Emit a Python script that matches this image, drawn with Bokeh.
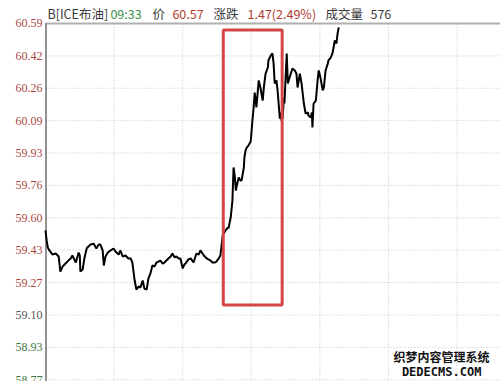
from bokeh.plotting import figure
from bokeh.models import (Range1d, LabelSet, Label, ColumnDataSource, BoxAnnotation)
from bokeh.embed import file_html
from bokeh.resources import INLINE

# ---- data -------------------------------------------------------------
# minutes since session start
minutes = [0, 2, 4, 7, 12, 18, 23, 26, 30, 35, 40, 44, 47, 53, 56, 58, 60, 61, 65, 68,
           72, 75, 79, 84, 89, 93, 96, 100, 102, 105, 109, 114, 119, 124, 128, 131, 135,
           140, 145, 149, 152, 156, 159, 163, 166, 170, 173, 177, 180, 184, 187, 191,
           194, 201, 205, 208, 215, 219, 222, 226, 229, 233, 236, 240, 243, 245, 250,
           254, 259, 264, 268, 271, 277, 282, 285, 289, 292, 296, 299, 303, 306, 310,
           312, 315, 319, 320, 324, 327, 329, 331, 333, 334, 338, 341, 343, 347, 348,
           350, 352, 355, 359, 362, 364, 366, 369, 373, 376, 380, 382, 385, 389, 390,
           394, 397, 399, 401, 404, 406, 410, 411, 413, 415, 417, 418, 422, 424, 427,
           432, 436, 439, 441, 445, 448, 452, 455, 459, 460, 464, 466, 467, 469, 473,
           476, 478, 481, 485, 487, 490, 494, 495, 499, 502, 504, 506, 509, 511, 513]
prices = [59.532, 59.481, 59.445, 59.430, 59.409, 59.414, 59.399, 59.322, 59.348, 59.363,
          59.378, 59.389, 59.404, 59.368, 59.399, 59.419, 59.404, 59.322, 59.332, 59.389,
          59.440, 59.450, 59.460, 59.465, 59.440, 59.460, 59.460, 59.430, 59.353, 59.399,
          59.419, 59.430, 59.440, 59.419, 59.409, 59.430, 59.399, 59.404, 59.389, 59.389,
          59.368, 59.276, 59.230, 59.246, 59.240, 59.276, 59.235, 59.230, 59.286, 59.317,
          59.353, 59.348, 59.368, 59.378, 59.363, 59.368, 59.389, 59.399, 59.414, 59.394,
          59.399, 59.389, 59.389, 59.338, 59.358, 59.363, 59.384, 59.389, 59.368, 59.414,
          59.409, 59.430, 59.404, 59.389, 59.384, 59.378, 59.368, 59.368, 59.373, 59.389,
          59.404, 59.506, 59.517, 59.532, 59.547, 59.542, 59.598, 59.685, 59.854, 59.813,
          59.736, 59.752, 59.803, 59.787, 59.787, 59.854, 59.905, 59.941, 59.956, 59.966,
          59.987, 60.094, 60.156, 60.237, 60.161, 60.299, 60.263, 60.196, 60.263, 60.334,
          60.365, 60.401, 60.426, 60.437, 60.386, 60.283, 60.299, 60.248, 60.104, 60.135,
          60.094, 60.110, 60.212, 60.181, 60.437, 60.283, 60.314, 60.360, 60.350, 60.334,
          60.263, 60.334, 60.283, 60.181, 60.130, 60.135, 60.120, 60.110, 60.135, 60.058,
          60.181, 60.196, 60.299, 60.350, 60.314, 60.248, 60.263, 60.350, 60.386, 60.401,
          60.416, 60.437, 60.467, 60.503, 60.488, 60.539, 60.570]

prev_close = 59.10
tick_step = 0.16556
tick_index = [-2, -1, 0, 1, 2, 3, 4, 5, 6, 7, 8, 9]
tick_labels = ["58.77", "58.93", "59.10", "59.27", "59.43", "59.60",
               "59.76", "59.93", "60.09", "60.26", "60.42", "60.59"]
time_grid = [120, 240, 360, 480, 600, 720]
session_end = 796

header_texts = ["B[ICE布油]", "09:33", "价", "60.57", "涨跌", "1.47(2.49%)", "成交量", "576"]
header_minutes = [3.5, 113.5, 187, 222, 294, 353.5, 490, 568.5]

highlight = dict(left=311, right=414, top=60.557, bottom=59.151)

# ---- styling ----------------------------------------------------------
RED = "#b03a30"
AXRED = "#a8483e"
GREEN = "#3e8e4e"
AXGREEN = "#3f7a3f"
DARK = "#3a3a3a"
FONT = "Noto Sans CJK SC"
header_colors = [DARK, GREEN, DARK, RED, DARK, RED, DARK, DARK]

# whole canvas is the frame; chart area begins at 45 px left / 22 px top
x_left = -78.73
y_top = 60.7076
y_bottom = 58.7599

p = figure(width=500, height=381, x_range=Range1d(x_left, session_end),
           y_range=Range1d(y_bottom, y_top),
           output_backend="svg", toolbar_location=None, title=None,
           x_axis_location=None, y_axis_location=None,
           min_border_left=0, min_border_right=0, min_border_top=0,
           min_border_bottom=0, outline_line_color=None,
           background_fill_color="white", border_fill_color="white")
p.grid.visible = False

ticks = [prev_close + k * tick_step for k in tick_index]
top_val = ticks[-1]

# horizontal dotted grid
p.segment(x0=[0] * len(ticks), x1=[session_end] * len(ticks), y0=ticks, y1=ticks,
          line_color="#c4c4c4", line_dash="1 2", line_width=1)
# vertical dotted grid
p.segment(x0=time_grid, x1=time_grid, y0=[y_bottom] * len(time_grid),
          y1=[top_val] * len(time_grid),
          line_color="#c4c4c4", line_dash="1 2", line_width=1)
# top border and left axis line
p.segment(x0=[0], x1=[session_end], y0=[top_val], y1=[top_val],
          line_color="#b0b0b0", line_width=2)
p.segment(x0=[0.9], x1=[0.9], y0=[y_bottom], y1=[top_val],
          line_color="#4a4a4a", line_width=1.2)

p.line(minutes, prices, line_color="black", line_width=2)

p.add_layout(BoxAnnotation(fill_color=None, fill_alpha=0, line_color="#d64545",
                           line_alpha=1, line_width=3, **highlight))

label_colors = [AXRED if k > 0 else (AXGREEN if k < 0 else "#555555") for k in tick_index]
src = ColumnDataSource(dict(x=[0] * len(ticks), y=ticks, text=tick_labels, c=label_colors))
p.add_layout(LabelSet(x="x", y="y", text="text", source=src, text_color="c",
                      x_offset=-3, text_align="right", text_baseline="middle",
                      text_font=FONT, text_font_size="12px"))

y_header = 60.641
for t, xm, c in zip(header_texts, header_minutes, header_colors):
    p.add_layout(Label(x=xm, y=y_header, text=t, text_color=c, text_font=FONT,
                       text_font_size="12.5px", text_baseline="middle",
                       text_align="left"))

# watermark
p.add_layout(Label(x=693, y=58.888, text="织梦内容管理系统", text_color="#111111",
                   text_font=FONT, text_font_size="12px", text_font_style="bold",
                   text_align="center", text_baseline="middle"))
p.add_layout(Label(x=693, y=58.811, text="DEDECMS.COM", text_color="#111111",
                   text_font="DejaVu Sans Mono", text_font_size="12px",
                   text_font_style="bold", text_align="center", text_baseline="middle"))

open("out.html", "w").write(file_html(p, INLINE))
